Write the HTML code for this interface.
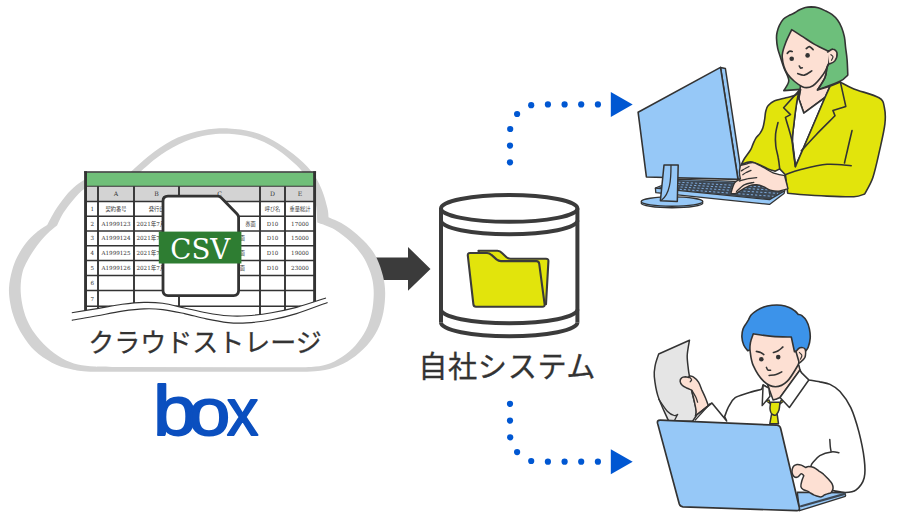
<!DOCTYPE html>
<html lang="ja">
<head>
<meta charset="utf-8">
<title>クラウドストレージ連携</title>
<style>
html,body{margin:0;padding:0;background:#fff;}
body{width:900px;height:520px;overflow:hidden;font-family:"Liberation Sans","Noto Sans CJK JP",sans-serif;}
svg{display:block;}
.lbl{font-family:"Liberation Sans","Noto Sans CJK JP",sans-serif;fill:#333;}
.cell{font-family:"DejaVu Serif","Liberation Serif","Noto Sans CJK JP",serif;fill:#333;font-size:5.6px;}
.cj{font-family:"Liberation Sans","Noto Sans CJK JP",sans-serif;font-size:5.2px;}
</style>
</head>
<body>
<svg width="900" height="520" viewBox="0 0 900 520">
<rect width="900" height="520" fill="#fff"/>
<g id="arrow">
<polygon points="366,257.5 408,257.5 408,247 430.5,268.9 408,290.8 408,280 366,280" fill="#3b3b3b"/>
</g>
<g id="cloud">
<path d="M120,371.7 C114.4,371.6 95,371.9 86.6,371.4 C78.1,370.9 75.1,370.2 69.3,368.8 C63.5,367.4 57.7,365.7 51.9,362.7 C46.1,359.7 39.5,355.2 34.6,350.6 C29.7,346 25.8,340.2 22.5,335 C19.2,329.8 16.7,324.6 14.7,319.4 C12.7,314.2 11.3,309.1 10.4,303.9 C9.5,298.7 8.7,293.6 9,288 C9.3,282.4 10.7,275.8 12.1,270.6 C13.5,265.4 15,261.4 17.3,256.8 C19.6,252.2 22.8,247 26,242.9 C29.2,238.8 32.9,235.5 36.4,232.5 C39.9,229.5 45.4,226.2 47.2,225 C48.5,222.7 51.8,215.8 54.8,211 C57.8,206.2 61.9,200.4 65.4,196.2 C68.9,192 72.7,188.4 76,185.6 C79.3,182.8 81.5,181.2 85.5,179.2 C89.5,177.2 95.1,174.9 100,173.8 C104.9,172.7 110.3,172.3 115,172.5 C119.7,172.7 125.8,174.6 128,175 C128.8,174.1 128.7,173.6 133.1,169.7 C137.5,165.8 146.8,157 154.2,151.7 C161.6,146.3 169.7,141.2 177.8,137.6 C185.9,134 194.5,131.7 203,130.2 C211.5,128.7 220.7,128.1 228.9,128.4 C237.1,128.7 244.6,129.8 252,131.8 C259.4,133.8 266.5,136.7 273.3,140.4 C280.1,144.1 286.7,148.7 293,153.8 C299.3,158.9 306.4,165.2 311.1,171.1 C315.9,177 318.8,182.8 321.5,189 C324.2,195.2 326.2,203.3 327.4,208 C328.6,212.7 328.3,215.8 328.5,217.3 C331,218.5 338.5,221.3 343.3,224.2 C348.1,227.1 352.8,230.8 357.1,234.6 C361.4,238.3 365.9,242.7 369.2,246.7 C372.5,250.7 374.7,253.9 377,258.8 C379.3,263.7 381.6,270.4 383,276.1 C384.4,281.8 385.1,286.9 385.2,293 C385.2,299.1 384.6,306.5 383.3,312.7 C382,318.9 380.2,324.6 377.5,330 C374.8,335.4 371.2,340.6 366.9,345.4 C362.6,350.2 356.9,355.1 351.5,358.8 C346.1,362.5 340.3,365.4 334.2,367.5 C328.1,369.6 322.4,370.6 315,371.3 C307.6,372 294.2,371.7 290,371.8 L120,371.7 Z" fill="#d2d2d2"/>
<path d="M120,367 C115.9,366.9 102.2,366.9 95.2,366.5 C88.2,366.1 83.4,365.9 77.9,364.5 C72.4,363.1 67.5,361.3 62.3,358.4 C57.1,355.5 51.4,351.3 46.8,347.1 C42.2,342.9 37.9,337.9 34.6,333.3 C31.3,328.7 28.9,324.3 26.8,319.4 C24.7,314.5 23.2,309.1 22.2,303.9 C21.2,298.7 20.6,293.3 20.6,288 C20.7,282.7 21.3,276.9 22.5,272.3 C23.7,267.7 25.4,264.5 27.7,260.2 C30,255.9 33.2,250.7 36.4,246.4 C39.6,242.1 43.3,237.7 46.8,234.2 C50.3,230.7 55.5,226.7 57.2,225.2 C58.2,223.2 60.5,217.4 63.3,213.1 C66.1,208.8 70.3,203.4 73.8,199.3 C77.3,195.2 80.4,191.8 84.4,188.8 C88.4,185.8 92.9,183.2 98,181.5 C103.1,179.8 109.2,179.1 115,178.8 C120.8,178.6 130,179.8 133,180 C134.4,178.5 136.8,175 141.5,170.8 C146.2,166.6 153.8,159.7 161,154.8 C168.2,149.9 177.2,144.8 185,141.5 C192.8,138.2 200.7,136.3 208,135 C215.3,133.7 221.6,133.4 228.9,133.8 C236.2,134.2 244.6,135.2 252,137.4 C259.4,139.6 267,143.4 273.3,147.1 C279.6,150.8 285.2,155.4 290,159.5 C294.8,163.6 298.7,166.9 302.2,171.6 C305.7,176.3 308.7,181.9 311,187.5 C313.3,193.1 314.9,199.2 316,205 C317.1,210.8 317.1,219.6 317.3,222.5 C320.2,223.7 329.1,226.2 334.6,229.4 C340.1,232.6 345.6,237.2 350.2,241.5 C354.8,245.8 359.1,250.8 362.3,255.4 C365.5,260 367.5,264.9 369.2,269.2 C370.9,273.5 371.9,276.9 372.7,281.3 C373.4,285.7 373.9,290.2 373.7,295.4 C373.5,300.6 373,306.9 371.7,312.7 C370.4,318.5 368.7,324.6 366,330 C363.3,335.4 359.4,340.9 355.4,345.4 C351.4,349.9 346.7,353.7 341.9,356.9 C337.1,360.1 331.6,362.9 326.5,364.6 C321.4,366.3 317.3,366.5 311.2,366.9 C305.1,367.3 293.5,367.1 290,367.2 L120,367 Z" fill="#fff"/>
</g>
<g id="sheet">
<defs><clipPath id="shclip"><path d="M71.8,312.7 C76,312 88.9,310 97.3,308.6 C105.7,307.2 114.4,305.3 122.2,304.3 C130,303.3 137.2,302.6 144,302.4 C150.8,302.2 155.9,302.4 162.7,303.3 C169.4,304.2 177.2,306.4 184.5,308 C191.8,309.6 198.9,311.4 206.2,312.7 C213.4,314 221.2,315.3 228,315.8 C234.8,316.3 239.4,316.3 246.7,315.8 C254,315.3 263.3,314.1 271.6,312.7 C279.9,311.3 287.4,309.8 296.5,307.4 C305.6,304.9 321.1,299.6 326,298 L326,160 L66,160 Z"/></clipPath></defs>
<g clip-path="url(#shclip)">
<rect x="85.55" y="172.4" width="229.05" height="150" fill="#fff"/>
<rect x="85.55" y="172.4" width="229.05" height="13.8" fill="#70bf79"/>
<rect x="85.55" y="186.2" width="229.05" height="15.5" fill="#d3d3d3"/>
<line x1="85.55" y1="186.2" x2="314.6" y2="186.2" stroke="#333" stroke-width="1.1"/>
<line x1="85.55" y1="201.6" x2="314.6" y2="201.6" stroke="#333" stroke-width="1.5"/>
<line x1="85.55" y1="216.3" x2="314.6" y2="216.3" stroke="#333" stroke-width="1.5"/>
<line x1="85.55" y1="231.0" x2="314.6" y2="231.0" stroke="#333" stroke-width="1.5"/>
<line x1="85.55" y1="245.7" x2="314.6" y2="245.7" stroke="#333" stroke-width="1.5"/>
<line x1="85.55" y1="260.5" x2="314.6" y2="260.5" stroke="#333" stroke-width="1.5"/>
<line x1="85.55" y1="275.4" x2="314.6" y2="275.4" stroke="#333" stroke-width="1.5"/>
<line x1="85.55" y1="290.6" x2="314.6" y2="290.6" stroke="#333" stroke-width="1.5"/>
<line x1="85.55" y1="306.2" x2="314.6" y2="306.2" stroke="#333" stroke-width="1.5"/>
<line x1="98" y1="186.2" x2="98" y2="330" stroke="#333" stroke-width="1.9"/>
<line x1="134" y1="186.2" x2="134" y2="330" stroke="#333" stroke-width="1.9"/>
<line x1="179" y1="186.2" x2="179" y2="330" stroke="#333" stroke-width="1.9"/>
<line x1="260" y1="186.2" x2="260" y2="330" stroke="#333" stroke-width="1.9"/>
<line x1="285" y1="186.2" x2="285" y2="330" stroke="#333" stroke-width="1.9"/>
<path d="M85.55,171.2 V335 M314.6,171.2 V335" fill="none" stroke="#333" stroke-width="2.9"/>
<path d="M84.1,171.95 H316.05" fill="none" stroke="#333" stroke-width="1.5"/>
<text x="116" y="196.2" text-anchor="middle" class="cell" style="font-size:6.2px">A</text>
<text x="156.5" y="196.2" text-anchor="middle" class="cell" style="font-size:6.2px">B</text>
<text x="219.5" y="196.2" text-anchor="middle" class="cell" style="font-size:6.2px">C</text>
<text x="272.5" y="196.2" text-anchor="middle" class="cell" style="font-size:6.2px">D</text>
<text x="300" y="196.2" text-anchor="middle" class="cell" style="font-size:6.2px">E</text>
<text x="92.3" y="211" text-anchor="middle" class="cell">1</text>
<text x="92.3" y="225.8" text-anchor="middle" class="cell">2</text>
<text x="92.3" y="240.4" text-anchor="middle" class="cell">3</text>
<text x="92.3" y="255.2" text-anchor="middle" class="cell">4</text>
<text x="92.3" y="270.1" text-anchor="middle" class="cell">5</text>
<text x="92.3" y="285.1" text-anchor="middle" class="cell">6</text>
<text x="92.3" y="300.5" text-anchor="middle" class="cell">7</text>
<text x="116" y="211" text-anchor="middle" class="cell cj">契約番号</text>
<text x="156.5" y="211" text-anchor="middle" class="cell cj">発行日</text>
<text x="219.5" y="211" text-anchor="middle" class="cell cj">品名</text>
<text x="272.5" y="211" text-anchor="middle" class="cell cj">呼び名</text>
<text x="300" y="211" text-anchor="middle" class="cell cj">重量総計</text>
<text x="116" y="225.8" text-anchor="middle" class="cell">A1999123</text>
<text x="136.5" y="225.8" text-anchor="start" class="cell">2021年7月1日</text>
<text x="255.6" y="225.8" text-anchor="end" class="cell cj">券面</text>
<text x="272.5" y="225.8" text-anchor="middle" class="cell">D10</text>
<text x="300" y="225.8" text-anchor="middle" class="cell">17000</text>
<text x="116" y="240.4" text-anchor="middle" class="cell">A1999124</text>
<text x="136.5" y="240.4" text-anchor="start" class="cell">2021年7月1日</text>
<text x="245" y="240.4" text-anchor="end" class="cell cj">書面</text>
<text x="272.5" y="240.4" text-anchor="middle" class="cell">D10</text>
<text x="300" y="240.4" text-anchor="middle" class="cell">15000</text>
<text x="116" y="255.2" text-anchor="middle" class="cell">A1999125</text>
<text x="136.5" y="255.2" text-anchor="start" class="cell">2021年7月1日</text>
<text x="245" y="255.2" text-anchor="end" class="cell cj">書面</text>
<text x="272.5" y="255.2" text-anchor="middle" class="cell">D10</text>
<text x="300" y="255.2" text-anchor="middle" class="cell">19000</text>
<text x="116" y="270.1" text-anchor="middle" class="cell">A1999126</text>
<text x="136.5" y="270.1" text-anchor="start" class="cell">2021年7月1日</text>
<text x="245" y="270.1" text-anchor="end" class="cell cj">書面</text>
<text x="272.5" y="270.1" text-anchor="middle" class="cell">D10</text>
<text x="300" y="270.1" text-anchor="middle" class="cell">23000</text>
</g>
<path d="M71.8,312.7 C76,312 88.9,310 97.3,308.6 C105.7,307.2 114.4,305.3 122.2,304.3 C130,303.3 137.2,302.6 144,302.4 C150.8,302.2 155.9,302.4 162.7,303.3 C169.4,304.2 177.2,306.4 184.5,308 C191.8,309.6 198.9,311.4 206.2,312.7 C213.4,314 221.2,315.3 228,315.8 C234.8,316.3 239.4,316.3 246.7,315.8 C254,315.3 263.3,314.1 271.6,312.7 C279.9,311.3 287.4,309.8 296.5,307.4 C305.6,304.9 321.1,299.6 326,298 L327.6,302.4 L327.6,302.4 C322.4,304.3 305.8,310.7 296.5,313.6 C287.2,316.5 279.9,318.2 271.6,319.8 C263.3,321.4 254,322.4 246.7,322.9 C239.4,323.4 234.8,323.3 228,322.6 C221.2,321.9 213.4,320.4 206.2,318.9 C198.9,317.4 191.8,315.2 184.5,313.6 C177.2,312.1 169.4,310.4 162.7,309.6 C155.9,308.8 150.8,308.6 144,308.9 C137.2,309.1 130,310 122.2,311.1 C114.4,312.2 105.7,314.2 97.3,315.8 C88.9,317.4 76,319.6 71.8,320.4 Z" fill="#fff" stroke="none"/>
<path d="M71.8,312.7 C76,312 88.9,310 97.3,308.6 C105.7,307.2 114.4,305.3 122.2,304.3 C130,303.3 137.2,302.6 144,302.4 C150.8,302.2 155.9,302.4 162.7,303.3 C169.4,304.2 177.2,306.4 184.5,308 C191.8,309.6 198.9,311.4 206.2,312.7 C213.4,314 221.2,315.3 228,315.8 C234.8,316.3 239.4,316.3 246.7,315.8 C254,315.3 263.3,314.1 271.6,312.7 C279.9,311.3 287.4,309.8 296.5,307.4 C305.6,304.9 321.1,299.6 326,298" fill="none" stroke="#333" stroke-width="1.1"/>
<path d="M71.8,320.4 C76,319.6 88.9,317.4 97.3,315.8 C105.7,314.2 114.4,312.2 122.2,311.1 C130,310 137.2,309.1 144,308.9 C150.8,308.6 155.9,308.8 162.7,309.6 C169.4,310.4 177.2,312.1 184.5,313.6 C191.8,315.2 198.9,317.4 206.2,318.9 C213.4,320.4 221.2,321.9 228,322.6 C234.8,323.3 239.4,323.4 246.7,322.9 C254,322.4 263.3,321.4 271.6,319.8 C279.9,318.2 287.2,316.5 296.5,313.6 C305.8,310.7 322.4,304.3 327.6,302.4" fill="none" stroke="#333" stroke-width="1.1"/>
</g>
<g id="csv">
<path d="M168,196.1 H217.5 Q219.5,196.1 221,197.6 L237.1,214 Q238.6,215.5 238.6,217.5 V290.6 Q238.6,295.6 233.6,295.6 H168 Q163,295.6 163,290.6 V201.1 Q163,196.1 168,196.1 Z" fill="#fff" stroke="#333" stroke-width="2.8" stroke-linejoin="round"/>
<rect x="158.8" y="231.6" width="82.6" height="31.9" fill="#2e7d32"/>
<text x="200.3" y="258.5" text-anchor="middle" font-family="'DejaVu Serif','Liberation Serif',serif" font-size="28.5" fill="#fff" textLength="60" lengthAdjust="spacingAndGlyphs">CSV</text>
</g>
<g id="labels">
<text x="204.9" y="352" text-anchor="middle" class="lbl" font-size="26" letter-spacing="0" stroke="#333" stroke-width="0.3">クラウドストレージ</text>
<text x="507.2" y="376.6" text-anchor="middle" class="lbl" font-size="29.2" letter-spacing="0.6" stroke="#333" stroke-width="0.3">自社システム</text>
<text y="435.3" font-family="'Liberation Sans',sans-serif" font-size="66" fill="#0b4fbf" stroke="#0b4fbf" stroke-width="1.8" stroke-linejoin="round"><tspan x="153.1" font-size="70" textLength="44" lengthAdjust="spacingAndGlyphs">b</tspan><tspan x="188.3" textLength="42" lengthAdjust="spacingAndGlyphs">o</tspan><tspan x="227.1" textLength="31.3" lengthAdjust="spacingAndGlyphs">x</tspan></text>
</g>
<g id="db">
<path d="M441.0,208.4 V322.5 A68.2,13.7 0 0 0 577.4,322.5 V208.4 Z" fill="#fff" stroke="none"/>
<ellipse cx="509.2" cy="208.4" rx="68.2" ry="13.4" fill="#fff" stroke="#3b3b3b" stroke-width="4"/>
<path d="M441.0,220.6 A68.2,13.7 0 0 0 577.4,220.6" fill="none" stroke="#3b3b3b" stroke-width="4"/>
<path d="M441.0,309.5 A68.2,13.7 0 0 0 577.4,309.5" fill="none" stroke="#3b3b3b" stroke-width="4"/>
<path d="M441.0,322.5 A68.2,13.7 0 0 0 577.4,322.5" fill="none" stroke="#3b3b3b" stroke-width="4"/>
<path d="M441.0,208.4 V322.5 M577.4,208.4 V322.5" fill="none" stroke="#3b3b3b" stroke-width="4"/>
<g transform="translate(0,0.7)">
<path d="M478.5,250.1 H497.5 Q500,250.1 502,252.3 L506.5,256.6 Q508.2,258 510.5,258 H546 Q548.6,258 548.4,260.6 L546,303.5 H490 Z" fill="#e2e40c" stroke="#3b3b3b" stroke-width="2.1" stroke-linejoin="round"/>
<path d="M470,252.3 H487 Q489.5,252.3 491.5,254.2 L496.5,258.7 Q498.5,260.4 501,260.4 H536.5 Q538.9,260.4 539.2,263 L544.6,303.5 Q544.9,306 542.4,306 H476 Q473.7,306 473.4,303.6 L467.8,254.8 Q467.6,252.3 470,252.3 Z" fill="#e2e40c" stroke="#3b3b3b" stroke-width="2.1" stroke-linejoin="round"/>
</g>
</g>
<g id="dots">
<circle cx="510" cy="162.3" r="3.1" fill="#0057d2"/>
<circle cx="510" cy="145.6" r="3.1" fill="#0057d2"/>
<circle cx="510.2" cy="129" r="3.1" fill="#0057d2"/>
<circle cx="517.1" cy="114" r="3.1" fill="#0057d2"/>
<circle cx="531.2" cy="105.2" r="3.1" fill="#0057d2"/>
<circle cx="547.9" cy="104.4" r="3.1" fill="#0057d2"/>
<circle cx="564.6" cy="104.4" r="3.1" fill="#0057d2"/>
<circle cx="581.2" cy="104.4" r="3.1" fill="#0057d2"/>
<circle cx="597.9" cy="104.4" r="3.1" fill="#0057d2"/>
<circle cx="510" cy="403.8" r="3.1" fill="#0057d2"/>
<circle cx="510" cy="420.6" r="3.1" fill="#0057d2"/>
<circle cx="510.2" cy="437.3" r="3.1" fill="#0057d2"/>
<circle cx="517.1" cy="452.1" r="3.1" fill="#0057d2"/>
<circle cx="531.2" cy="461" r="3.1" fill="#0057d2"/>
<circle cx="547.9" cy="461.7" r="3.1" fill="#0057d2"/>
<circle cx="564.6" cy="461.7" r="3.1" fill="#0057d2"/>
<circle cx="581.2" cy="461.7" r="3.1" fill="#0057d2"/>
<circle cx="597.9" cy="461.7" r="3.1" fill="#0057d2"/>
<polygon points="610.8,91.9 632.7,104.4 610.8,116.9" fill="#0057d2"/>
<polygon points="610.8,449.2 632.7,461.7 610.8,474.2" fill="#0057d2"/>
</g>
<g id="woman">
<path d="M783.8,90.6 C784.6,88.9 788.8,84.4 788.8,80.6 C788.8,76.8 785.4,71.8 784,68 C782.6,64.2 781.6,61 780.6,57.7 C779.6,54.4 778.4,51.7 777.7,48.4 C777,45.1 776.6,40.8 776.5,38.1 C776.4,35.4 776.6,34.4 777.1,32.3 C777.6,30.2 778.3,27.6 779.4,25.4 C780.5,23.2 781.8,20.7 783.5,19 C785.2,17.3 788.1,15.9 789.8,15 C791.5,14.1 792.2,14.2 793.8,13.3 C795.4,12.4 797.7,10.8 799.6,9.8 C801.5,8.8 803.5,8 805.4,7.5 C807.3,7 809,6.9 811.1,6.9 C813.2,7 815.8,7.2 818.1,7.8 C820.4,8.4 822.7,9.5 825,10.6 C827.3,11.7 829.8,12.8 831.9,14.4 C834,16 836.1,18 837.7,20.2 C839.3,22.4 840.6,24.9 841.7,27.7 C842.8,30.5 843.7,33.4 844.4,36.9 C845.1,40.4 845.2,44.5 845.7,48.4 C846.2,52.2 846.8,55.5 847.1,60 C847.5,64.5 847.7,72.6 847.8,75.1 C846.5,76.1 845,78.8 840,81.3 C835,83.8 821.2,88.5 817.5,90 L812,84 L800.3,89.4 L783.8,90.6 Z" fill="#6dbf7b" stroke="#333" stroke-width="1.6" stroke-linejoin="round" stroke-linecap="round"/>
<path d="M800.6,85 L798.8,98.8 L803.8,113.1 L825,97.5 L830,86.3 L817.5,90 C818.8,87.9 823.4,81.2 825,77.5 C826.6,73.8 826.6,69.2 826.9,67.5 Z" fill="#fde0d3" stroke="#333" stroke-width="1.6" stroke-linejoin="round" stroke-linecap="round"/>
<path d="M798.8,98.8 L803.8,113.1 L825,97.5 L803.9,147 L795.4,166.6 C794.9,162.6 792.7,149.3 792.4,142.4 C792.1,135.5 793,131.8 793.8,125 C794.5,118.2 795.8,107.2 796.9,101.3 C798,95.4 800,91.4 800.6,89.4 L798.8,98.8 Z" fill="#fff" stroke="#333" stroke-width="1.6" stroke-linejoin="round" stroke-linecap="round"/>
<path d="M799.3,90.4 C798.7,91.2 798,93.8 795.8,95 C793.6,96.2 789.6,96.8 786,97.8 C782.4,98.8 777.2,99.7 774.2,101 C771.2,102.3 769.4,104 768,105.8 C766.6,107.5 766.3,109.2 765.7,111.5 C765.1,113.8 765.1,116.9 764.6,119.6 C764.1,122.3 763.7,125.4 762.9,127.7 C762.1,130 761.2,131.7 760,133.4 C758.8,135.1 757,136.4 755.9,138.1 C754.8,139.8 754,141.9 753.1,143.8 C752.2,145.7 752.1,147.2 750.7,149.6 C749.3,152 746,156.1 744.5,158.5 C743,160.9 742,163.3 741.5,164.3 C743.2,163.9 747.5,161.2 751.9,162 C756.4,162.8 764.3,167.4 768.1,168.9 C772,170.5 773.9,170.8 775,171.2 L779.7,168.9 L785.4,174.7 L787.7,193.2 C789.8,193.4 793.5,194 800,194.5 C806.5,195 818,195.8 827,196.1 C835.9,196.5 847.6,197 853.9,196.7 C860.2,196.3 862.9,194.4 864.7,194 C866,191.3 870.3,185 872.8,177.8 C875.2,170.6 877.5,159.8 879.5,150.9 C881.5,141.9 884.1,131.1 884.9,123.9 C885.7,116.7 885.4,112.1 884.4,107.7 C883.4,103.4 884.1,100.9 879,97.8 C873.9,94.6 860.3,91.5 853.9,88.9 C847.5,86.3 842.7,83.3 840.4,82.1 L830,86.3 L825,97.5 L803.9,147 L795.4,166.6 C794.9,162.6 792.7,149.3 792.4,142.4 C792.1,135.5 793,131.8 793.8,125 C794.5,118.2 796,107.1 796.9,101.3 C797.8,95.5 798.9,92.2 799.3,90.4 Z" fill="#e2e40c" stroke="#333" stroke-width="1.6" stroke-linejoin="round" stroke-linecap="round"/>
<path d="M778,122.5 C777.6,124.4 776,130.1 775.6,134 C775.2,137.9 775.4,142.1 775.8,146 C776.2,149.9 777.6,153.9 778.2,157.7 C778.9,161.5 779.5,167 779.7,168.9" fill="none" stroke="#333" stroke-width="1.6" stroke-linejoin="round" stroke-linecap="round"/>
<path d="M799.3,90.4 L783.6,107.7 L790.5,114.6 L785.4,117.4 C786.6,121.6 790.7,134.2 792.4,142.4 C794,150.6 794.9,162.6 795.4,166.6" fill="none" stroke="#333" stroke-width="1.6" stroke-linejoin="round" stroke-linecap="round"/>
<path d="M840.4,82.1 L845.8,106.4 L832.9,110.4 L835,115.8 C831.9,119 821.8,128.8 816.2,134.7 C810.6,140.5 803.8,148.2 801.3,150.9" fill="none" stroke="#333" stroke-width="1.6" stroke-linejoin="round" stroke-linecap="round"/>
<path d="M852,130.6 C851.4,133.1 849.8,140.1 848.5,145.5 C847.3,150.9 845.1,160.1 844.5,163" fill="none" stroke="#333" stroke-width="1.6" stroke-linejoin="round" stroke-linecap="round"/>
<path d="M785.4,174.7 C787.9,173.9 793.1,171.5 800,169.7 C806.9,168 818.4,165 827,164.3 C835.5,163.7 847.2,165.5 851.2,165.7" fill="none" stroke="#333" stroke-width="1.6" stroke-linejoin="round" stroke-linecap="round"/>
<path d="M791.7,29.6 C790.7,31.9 787,38.8 785.4,43.4 C783.8,48 781.9,52 782.2,57.1 C782.6,62.2 784.2,69.1 787.5,74 C790.9,79 798.1,84.8 802.3,86.7 C806.5,88.7 809.4,87.8 812.9,85.7 C816.4,83.6 820.8,77.7 823.5,74 C826.1,70.3 827.9,65.2 828.8,63.5 L829.8,50.8 L827.3,50.7 C825.2,49.7 818.6,46.7 814.6,44.4 C810.6,42.1 806.9,39.4 803.1,36.9 C799.3,34.4 793.6,30.8 791.7,29.6 Z" fill="#fde0d3" stroke="#333" stroke-width="1.6" stroke-linejoin="round" stroke-linecap="round"/>
<path d="M827.7,52 C828.6,51.5 831.4,48.9 833,49.1 C834.5,49.2 836.7,50.9 837,52.9 C837.3,54.9 836.2,59.1 834.9,60.9 C833.6,62.8 830.3,63.4 829.4,63.9" fill="#fde0d3" stroke="#333" stroke-width="1.6" stroke-linejoin="round" stroke-linecap="round"/>
<path d="M830.9,54.6 C831.2,54.9 832.9,55.7 833,56.7 C833.1,57.6 831.8,59.7 831.5,60.3" fill="none" stroke="#333" stroke-width="1.2" stroke-linejoin="round" stroke-linecap="round"/>
<path d="M828.8,63.5 C828.5,64.2 827.5,65.2 826.9,67.5 C826.3,69.8 826.6,73.8 825,77.5 C823.4,81.2 818.8,87.9 817.5,90" fill="none" stroke="#333" stroke-width="1.6" stroke-linejoin="round" stroke-linecap="round"/>
<circle cx="791.7" cy="58.8" r="2.3" fill="#333"/>
<circle cx="807.6" cy="55.4" r="2.3" fill="#333"/>
<path d="M787.3,53.3 C787.7,52.9 788.7,51.5 789.5,51.2 C790.3,50.9 791.8,51.5 792.2,51.5" fill="none" stroke="#333" stroke-width="1.7" stroke-linejoin="round" stroke-linecap="round"/>
<path d="M806.3,48.6 C806.8,48.3 808.3,46.4 809.4,46.6 C810.5,46.8 812.5,49.1 813.1,49.6" fill="none" stroke="#333" stroke-width="1.7" stroke-linejoin="round" stroke-linecap="round"/>
<path d="M799.3,66 C799.6,66.4 800.1,67.8 800.6,68.1 C801.1,68.4 802,67.8 802.3,67.7" fill="none" stroke="#333" stroke-width="1.6" stroke-linejoin="round" stroke-linecap="round"/>
<path d="M797.7,73.6 C798.8,73.9 802.1,75.6 804.4,75.1 C806.8,74.6 810.6,71.6 811.8,70.9" fill="none" stroke="#333" stroke-width="1.6" stroke-linejoin="round" stroke-linecap="round"/>
<path d="M655.4,188 L677.8,179.2 L740,181.6 L786,185.6 L784,193.6 L769.5,204.4 L655.8,192.7 Z" fill="#96c8f7" stroke="#333" stroke-width="1.3" stroke-linejoin="round" stroke-linecap="round"/>
<path d="M657.8,188 L678,180 L740,182.4 L784.5,186.2 L782.2,191.4 L769.4,199.4 Z" fill="#3d4854" stroke="#333" stroke-width="0" stroke-linejoin="round" stroke-linecap="round"/>
<line x1="674" y1="182" x2="783" y2="188" stroke="#7eaadb" stroke-width="1" stroke-dasharray="2.2 2" stroke-dashoffset="0.0"/>
<line x1="670" y1="184" x2="781" y2="190.6" stroke="#7eaadb" stroke-width="1" stroke-dasharray="2.2 2" stroke-dashoffset="1.1"/>
<line x1="666" y1="186" x2="778" y2="193.4" stroke="#7eaadb" stroke-width="1" stroke-dasharray="2.2 2" stroke-dashoffset="2.2"/>
<line x1="662" y1="188" x2="774" y2="196.4" stroke="#7eaadb" stroke-width="1" stroke-dasharray="2.2 2" stroke-dashoffset="3.3000000000000003"/>
<path d="M655.4,188.2 L769.5,199.6 L783.6,191.4" fill="none" stroke="#333" stroke-width="1.3" stroke-linejoin="round" stroke-linecap="round"/>
<path d="M720.5,67.4 L725.4,68.5 L742.1,178.6 L738,179.4 Z" fill="#96c8f7" stroke="#333" stroke-width="1.5" stroke-linejoin="round" stroke-linecap="round"/>
<path d="M638.1,112.2 L720.5,67.4 L738,179.4 L646.4,177 Z" fill="#96c8f7" stroke="#333" stroke-width="1.6" stroke-linejoin="round" stroke-linecap="round"/>
<ellipse cx="672" cy="202.9" rx="30.8" ry="4.9" fill="#96c8f7" stroke="#333" stroke-width="1.4"/>
<ellipse cx="672" cy="201.6" rx="30.8" ry="4.7" fill="#96c8f7" stroke="#333" stroke-width="1.4"/>
<path d="M664,165.1 L678.2,165.1 L677.3,201.6 L660.4,200.7 Z" fill="#96c8f7" stroke="#333" stroke-width="1.5" stroke-linejoin="round" stroke-linecap="round"/>
<path d="M671,165.5 C671,180 670,194 661.5,200.3" fill="none" stroke="#333" stroke-width="1.3" stroke-linejoin="round" stroke-linecap="round"/>
<path d="M740.4,165.6 C741.5,165.3 744.9,164.1 747.1,163.7 C749.4,163.2 751.1,162.1 753.8,162.7 C756.6,163.3 760.3,165.8 763.5,167.5 C766.7,169.2 769.6,171.4 773.1,172.8 C776.6,174.2 782.7,175.2 784.6,175.7 L788,188.7 C786.5,189.1 781.8,190.8 778.8,191.1 C775.9,191.3 772.8,190.8 770.2,190.1 C767.6,189.4 765.7,187.6 763.5,186.7 C761.2,185.8 759.1,185 756.7,184.8 C754.3,184.6 751.4,185 749,185.8 C746.6,186.6 744.6,188.3 742.3,189.6 C740.1,190.9 737.5,192.8 735.6,193.5 C733.7,194.1 731.6,193.5 730.8,193.5 C731.4,191.7 733,185.3 734.6,182.9 C736.2,180.5 739.4,179.7 740.4,179 C740.2,177.9 739.4,174.6 739.4,172.3 C739.4,170.1 740.2,166.7 740.4,165.6 Z" fill="#fde0d3" stroke="#333" stroke-width="1.4" stroke-linejoin="round" stroke-linecap="round"/>
<path d="M741.3,170.9 C742,170.5 743.9,169.2 745.2,168.5 C746.5,167.7 748.4,166.9 749,166.5" fill="none" stroke="#333" stroke-width="1.3" stroke-linejoin="round" stroke-linecap="round"/>
<path d="M742.8,174.7 C743.4,174.3 745.3,173 746.6,172.3 C748,171.6 750.2,170.7 751,170.4" fill="none" stroke="#333" stroke-width="1.3" stroke-linejoin="round" stroke-linecap="round"/>
<path d="M739.4,181 C740.9,180.6 745.2,179.1 748.1,178.6 C751,178 755.3,177.8 756.7,177.6" fill="none" stroke="#333" stroke-width="1.3" stroke-linejoin="round" stroke-linecap="round"/>
<path d="M736.5,191.5 C737.8,190.4 741.3,186.3 744.2,184.8 C747.1,183.3 752.2,182.8 753.8,182.4" fill="none" stroke="#333" stroke-width="1.3" stroke-linejoin="round" stroke-linecap="round"/>
</g>
<g id="man">
<path d="M689.5,340.2 L658.7,354 C658.1,355.9 655.9,361.6 655.2,365.3 C654.5,369.1 653.9,371.5 654.3,376.6 C654.8,381.6 655.8,389 657.8,395.6 C659.8,402.2 664.6,412.1 666.5,416.4 C668.3,420.7 668.6,420.4 669,421.2 L695.4,421.2 C695.5,419.6 696.6,414.6 696.4,411.2 C696.2,407.8 695,404.4 694.2,400.8 C693.3,397.2 692.3,393.6 691.6,389.5 C690.8,385.5 690,379.9 689.5,376.6 C689,373.2 688.8,373.1 688.4,369.6 C688.1,366.2 687.1,360.7 687.2,355.8 C687.4,350.9 689.1,342.8 689.5,340.2 Z" fill="#e5e5e5" stroke="#333" stroke-width="1.5" stroke-linejoin="round" stroke-linecap="round"/>
<path d="M658.7,399.1 C660.1,401.1 664.7,408.4 667.3,411.2 C669.9,413.9 672.5,415 674.2,415.5 C676,416 677.1,414.5 677.7,414.3 L674.6,420.2" fill="none" stroke="#333" stroke-width="1.3" stroke-linejoin="round" stroke-linecap="round"/>
<path d="M689.5,375.9 C690.2,376.1 692.1,376 693.6,377.1 C695.1,378.1 697.1,379.9 698.5,382.1 C699.9,384.3 700.8,387.5 701.9,390.1 C703.1,392.7 704.3,395.1 705.4,397.7 C706.5,400.3 707.9,404.3 708.4,405.6 L695.4,416 C695.5,415.2 696.3,413.7 696.1,411.2 C695.9,408.7 694.9,404.3 694.2,400.8 C693.4,397.3 692,391.9 691.6,390.1 C690.8,389.7 688.3,388.8 686.7,388 C685.2,387.2 683.3,386.3 682.2,385.2 C681.1,384.1 680.2,382.5 680.1,381.2 C680,380 680.8,378.5 681.7,377.8 C682.6,377 684.3,376.8 685.5,376.7 C686.7,376.7 688.5,377.5 689.1,377.6 L689.5,375.9 Z" fill="#fde0d3" stroke="#333" stroke-width="1.5" stroke-linejoin="round" stroke-linecap="round"/>
<path d="M689,376.6 C689.4,377.1 691.4,378.8 691.6,379.7 C691.8,380.5 690.4,381.4 690.2,381.8" fill="none" stroke="#333" stroke-width="1.3" stroke-linejoin="round" stroke-linecap="round"/>
<path d="M691.9,390.4 C692.6,391.6 694.9,395.4 695.9,397.3 C696.8,399.3 697.3,401.4 697.6,402.2" fill="none" stroke="#333" stroke-width="1.3" stroke-linejoin="round" stroke-linecap="round"/>
<path d="M697.1,414.6 L711.9,403 L726.7,421 L724.6,416.7 C725.3,415 727.1,409.3 728.9,406.2 C730.6,403 732,399.9 735.2,397.7 C738.4,395.5 743.5,394.5 747.9,393 C752.3,391.6 759.3,389.9 761.6,389.2 L762.2,388.1 L763.1,385 L768.8,388.1 L776.2,398.8 L800,370 L801.2,372.5 L808.8,380 C810.6,380.3 816.5,381.1 820,381.9 C823.5,382.6 826.7,382.8 830,384.4 C833.3,386 836.5,387.7 840,391.5 C843.5,395.4 847.6,401 850.8,407.7 C853.9,414.4 856.6,423.4 858.9,431.9 C861.1,440.5 863.3,451.2 864.2,458.9 C865.1,466.5 865.6,472.5 864.2,477.7 C862.9,482.9 859.3,487.3 856.2,489.8 C853,492.3 849.2,492.4 845.4,492.5 C841.6,492.6 835.3,490.9 833.3,490.6 L800,500 L700,500 L690,425 L697.1,414.6 Z" fill="#fff" stroke="#333" stroke-width="1.6" stroke-linejoin="round" stroke-linecap="round"/>
<path d="M695.4,419.9 L709.8,404" fill="none" stroke="#333" stroke-width="1.4" stroke-linejoin="round" stroke-linecap="round"/>
<path d="M829.8,439.5 C829.9,440.7 830.1,444.7 830.3,446.7 C830.5,448.8 831,450.8 831.1,451.6" fill="none" stroke="#333" stroke-width="1.5" stroke-linejoin="round" stroke-linecap="round"/>
<path d="M838.9,452.7 C837.7,452.5 834.6,451.4 831.4,451.9 C828.2,452.3 823,453.8 819.8,455.6 C816.7,457.5 814,461.2 812.5,462.9 C811.1,464.6 811.3,465.5 811,466" fill="none" stroke="#333" stroke-width="1.5" stroke-linejoin="round" stroke-linecap="round"/>
<path d="M768.8,388.1 L773.1,400 L776.5,399 L780,397.5 L800,370 L798.8,365 L765,377.5 L768.8,388.1 Z" fill="#fde0d3" stroke="#333" stroke-width="1.5" stroke-linejoin="round" stroke-linecap="round"/>
<path d="M771.5,414.4 L777.2,414.4 L778.5,423.8 L769.8,423.8 L771.5,414.4 Z" fill="#e2e40c" stroke="#333" stroke-width="1.5" stroke-linejoin="round" stroke-linecap="round"/>
<path d="M770.6,402.2 L780,402.2 C779.8,403.5 779.6,407.9 779,410 C778.4,412.1 777.1,413.9 776.2,414.8 C775.4,415.6 774.6,415.3 773.8,415 C772.9,414.7 771.9,414.2 771.2,413.1 C770.6,412.1 770.1,410.6 770,408.8 C769.9,406.9 770.5,403.3 770.6,402.2 Z" fill="#e2e40c" stroke="#333" stroke-width="1.5" stroke-linejoin="round" stroke-linecap="round"/>
<path d="M766.5,400.9 L769,399.8 L770.5,404 L766.5,400.9 Z" fill="#e2e40c" stroke="#333" stroke-width="1.3" stroke-linejoin="round" stroke-linecap="round"/>
<path d="M783.5,401.2 L781,400.2 L780,404 L783.5,401.2 Z" fill="#e2e40c" stroke="#333" stroke-width="1.3" stroke-linejoin="round" stroke-linecap="round"/>
<path d="M763.1,385 L762.2,405.6 L770,396.2 L768.8,388.1 L763.1,385 Z" fill="#fff" stroke="#333" stroke-width="1.5" stroke-linejoin="round" stroke-linecap="round"/>
<path d="M801.2,372.5 L808.8,380 L789.4,407.5 L780,397.5 L800,370 L801.2,372.5 Z" fill="#fff" stroke="#333" stroke-width="1.5" stroke-linejoin="round" stroke-linecap="round"/>
<path d="M747.7,350.7 C747,349.8 744.7,347.3 743.7,345 C742.7,342.7 742,339.6 741.9,336.9 C741.8,334.2 742.3,331.1 743.1,328.8 C743.9,326.5 745.6,324.5 746.5,323.1 C747.4,321.7 748,320.7 748.3,320.2 C748.8,319.3 749.7,316.6 751.1,315 C752.5,313.4 754.8,311.8 756.9,310.4 C759,309 761.3,307.8 763.8,306.9 C766.3,306 769,305.6 771.9,305.3 C774.8,305 778.2,304.9 781.1,305.3 C784,305.7 786.9,306.6 789.2,307.5 C791.5,308.4 793.5,309.9 795,311 C796.5,312.1 797.7,313.8 798.2,314.4 C798.8,314.6 800.5,314.5 801.9,315.6 C803.3,316.7 805.2,318.6 806.5,320.8 C807.8,323 808.8,325.9 809.4,328.8 C810,331.7 810.4,335 810.2,338.1 C810,341.2 809,345.1 808.2,347.3 C807.4,349.5 805.9,350.6 805.4,351.3 L799.8,352.9 L772.3,342.3 L747.7,350.7 Z" fill="#3c93ea" stroke="#333" stroke-width="1.6" stroke-linejoin="round" stroke-linecap="round"/>
<path d="M795.6,352 C796.3,351.3 798.2,348.3 799.8,347.8 C801.4,347.3 804.3,347.5 805.1,349.1 C805.9,350.7 805.8,355.2 804.9,357.5 C803.9,359.9 800.3,362.1 799.4,363" fill="#fde0d3" stroke="#333" stroke-width="1.5" stroke-linejoin="round" stroke-linecap="round"/>
<path d="M799.4,352.5 C799.8,353 801.8,354.3 801.9,355.4 C802.1,356.6 800.7,358.6 800.4,359.2" fill="none" stroke="#333" stroke-width="1.2" stroke-linejoin="round" stroke-linecap="round"/>
<path d="M753.3,333.8 C752.8,335.3 751,339.5 750.5,342.3 C750,345.1 749.6,346.9 750.1,350.8 C750.6,354.7 751,360.5 753.3,365.6 C755.6,370.7 760.1,377.9 763.8,381.4 C767.6,385 771.6,386.7 775.5,386.7 C779.4,386.7 783.4,385 787.1,381.4 C790.8,377.9 795.8,368.9 797.7,365.6 C799.6,362.2 798.6,362.1 798.8,361.3 L796,351.8 L794.5,351.8 L791.3,337 C788.2,336.9 778.7,336.9 772.3,336.4 C766,335.9 756.4,334.3 753.3,333.8 Z" fill="#fde0d3" stroke="#333" stroke-width="1.6" stroke-linejoin="round" stroke-linecap="round"/>
<circle cx="761.3" cy="359.2" r="2.3" fill="#333"/>
<circle cx="778.2" cy="357.1" r="2.3" fill="#333"/>
<path d="M756.4,351.4 C757.1,351.6 759.4,351.9 760.7,352.5 C761.9,353 763.3,354.2 763.8,354.6" fill="none" stroke="#333" stroke-width="1.6" stroke-linejoin="round" stroke-linecap="round"/>
<path d="M773.4,352.5 C774.2,352.2 776.6,351.7 778.2,350.8 C779.8,349.9 782.1,347.6 782.9,347" fill="none" stroke="#333" stroke-width="1.6" stroke-linejoin="round" stroke-linecap="round"/>
<path d="M766.4,367.3 C766.6,367.7 767,369.3 767.7,369.8 C768.4,370.3 770.1,370.2 770.6,370.2" fill="none" stroke="#333" stroke-width="1.5" stroke-linejoin="round" stroke-linecap="round"/>
<path d="M769.1,375.5 C770.3,375.3 774,375.1 776.1,374.5 C778.2,373.9 780.9,372.4 781.8,371.9" fill="none" stroke="#333" stroke-width="1.5" stroke-linejoin="round" stroke-linecap="round"/>
<path d="M797.3,492.2 L844,492.8 Q846.2,494.5 845.3,496.3 L799.5,510.7 Z" fill="#96c8f7" stroke="#333" stroke-width="1.4" stroke-linejoin="round" stroke-linecap="round"/>
<path d="M801,506.2 L844.8,493.9" fill="none" stroke="#3d4854" stroke-width="2.2" stroke-linejoin="round" stroke-linecap="round"/>
<path d="M660.3,420.1 L776.5,425.2 Q780,425.4 780.8,429 L799.3,507.5 Q800,510.9 796.5,510.7 L683,506.8 Q680.2,506.6 679.3,504 L657.6,423.4 Q656.8,420 660.3,420.1 Z" fill="#96c8f7" stroke="#333" stroke-width="1.7" stroke-linejoin="round" stroke-linecap="round"/>
<path d="M805.7,467.5 C806.2,467.3 807.2,466.5 808.6,466.5 C809.9,466.5 812.2,466.8 813.8,467.5 C815.5,468.2 817.1,469.7 818.7,470.9 C820.3,472 821.9,472.9 823.5,474.2 C825.1,475.6 826.8,477.4 828.3,479 C829.7,480.6 831.3,482.3 832.1,483.8 C832.9,485.4 833.2,486.7 833.1,488.2 C832.9,489.6 832.1,491.5 831.2,492.5 C830.2,493.5 828.4,493.5 827.3,493.9 C826.2,494.3 824.9,494.7 824.4,494.9 C823.9,495.2 822.7,496.6 821.5,496.8 C820.4,497.1 819,496.7 817.7,496.3 C816.4,496 814.5,495.1 813.8,494.9 C813.3,494.6 811.5,493.6 810.5,493 C809.4,492.3 808.8,491.6 807.6,491.1 C806.4,490.5 804.4,490.3 803.3,489.6 C802.1,488.9 801.1,488.2 800.9,486.7 C800.6,485.3 801.3,482.8 801.8,481 C802.3,479.1 803.4,476.6 803.8,475.7 C803.3,475.4 802.4,473.5 801.3,473.8 C800.3,474 798.7,476.6 797.5,477.1 C796.3,477.6 795,477.3 794.1,476.6 C793.3,476 792.5,474.5 792.2,473.3 C791.9,472.1 792,470.6 792.2,469.4 C792.5,468.2 792.9,466.9 793.7,466.1 C794.5,465.2 795.7,464.6 797,464.4 C798.3,464.3 799.9,464.6 801.3,465.1 C802.8,465.6 805,467.1 805.7,467.5 Z" fill="#fde0d3" stroke="#333" stroke-width="1.5" stroke-linejoin="round" stroke-linecap="round"/>
</g>
</svg>
</body>
</html>
